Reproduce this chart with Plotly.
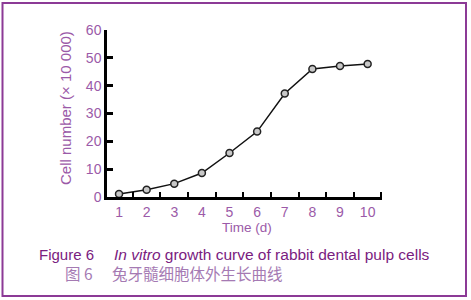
import plotly.graph_objects as go

days = [1, 2, 3, 4, 5, 6, 7, 8, 9, 10]
cell_counts = [1.1, 2.6, 4.8, 8.6, 15.8, 23.5, 37.2, 46.0, 47.1, 47.8]
y_ticks = [0, 10, 20, 30, 40, 50, 60]
x_minor_ticks = [1.5, 2.5, 3.5, 4.5, 5.5, 6.5, 7.5, 8.5, 9.5, 10.5]

W, H = 471, 300
L, R, T, B = 107, 382, 30, 197  # plot area pixels

def px(x):
    return (x - L) / (R - L)

def py(y):
    return (B - y) / (B - T)

tick_color = "#9b5aa8"
title_color = "#7a2080"
cn_color = "#a57ab3"
border_color = "#8c3a96"
font_fam = "Liberation Sans, Arial, sans-serif"

fig = go.Figure()
fig.add_trace(go.Scatter(
    x=days, y=cell_counts, mode="lines+markers",
    line=dict(color="#111111", width=1.5),
    marker=dict(size=7, color="#c8c8c8", line=dict(color="#222222", width=1.5)),
    showlegend=False, cliponaxis=False,
))

fig.update_layout(
    width=W, height=H,
    margin=dict(l=L, r=W - R, t=T, b=H - B),
    paper_bgcolor="white", plot_bgcolor="white",
    font=dict(family=font_fam, size=14, color=tick_color),
    xaxis=dict(
        range=[0.565, 10.52], tickvals=days, ticktext=[str(d) for d in days],
        ticks="", showgrid=False, zeroline=False,
        showline=True, linecolor="black", linewidth=2.5,
        tickfont=dict(size=14, color=tick_color),
        minor=dict(tickvals=x_minor_ticks, ticks="inside", ticklen=5,
                   tickwidth=1.5, tickcolor="black", showgrid=False),
    ),
    yaxis=dict(
        range=[0, 60], tickvals=y_ticks, ticks="inside", ticklen=6,
        tickwidth=2.5, tickcolor="black", showgrid=False, zeroline=False,
        showline=True, linecolor="black", linewidth=2.5,
        tickfont=dict(size=14, color=tick_color),
    ),
)

annotations = [
    dict(text="Time (d)", x=px(247), y=py(227), xanchor="center", yanchor="middle",
         font=dict(size=13.5, color=tick_color)),
    dict(text="Cell number (× 10 000)", x=px(65), y=py(108), textangle=-90,
         xanchor="center", yanchor="middle", font=dict(size=15, color=tick_color)),
    dict(text="Figure 6", x=px(96), y=py(254), xanchor="right", yanchor="middle",
         font=dict(size=15, color=title_color)),
    dict(text="<i>In vitro</i> growth curve of rabbit dental pulp cells", x=px(112), y=py(254),
         xanchor="left", yanchor="middle", font=dict(size=15.5, color=title_color)),
    dict(text="图 6", x=px(95), y=py(273), xanchor="right", yanchor="middle",
         font=dict(size=15.5, color=cn_color, family="Noto Sans CJK SC, " + font_fam)),
    dict(text="兔牙髓细胞体外生长曲线", x=px(110), y=py(273), xanchor="left", yanchor="middle",
         font=dict(size=15.5, color=cn_color, family="Noto Sans CJK SC")),
]
for a in annotations:
    a.update(xref="paper", yref="paper", showarrow=False)
fig.update_layout(annotations=annotations)

fig.add_shape(type="rect", xref="paper", yref="paper",
              x0=px(2.5), x1=px(466), y0=py(3), y1=py(296),
              line=dict(color=border_color, width=2), layer="below")

fig.write_html("out.html", config={"displayModeBar": False},
               post_script="document.body.style.margin='0px';")
